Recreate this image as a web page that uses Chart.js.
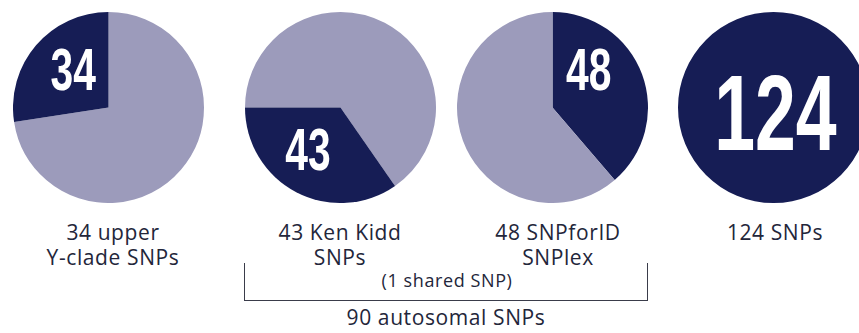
<!DOCTYPE html>
<html>
<head>
<meta charset="utf-8">
<script src="https://cdn.jsdelivr.net/npm/chart.js@4/dist/chart.umd.min.js"></script>
<style>
  html, body { margin: 0; padding: 0; background: #fff; overflow: hidden; }
  body { width: 859px; height: 333px; position: relative; font-family: "Open Sans", Roboto, sans-serif; color: #23263a; }
  .pie { position: absolute; width: 191px; height: 191px; }
  .label { position: absolute; width: 220px; text-align: center; font-size: 21px; line-height: 25px; letter-spacing: 0.6px; }
  .bracket { position: absolute; left: 244px; top: 263px; width: 404px; height: 38px;
             border: 1px solid #3a3c4a; border-top: none; box-sizing: border-box; }
  .note { position: absolute; width: 300px; text-align: center; letter-spacing: 0.6px; }
</style>
</head>
<body>
<div class="pie" style="left:13px;top:12px"><canvas id="pie0"></canvas></div>
<div class="pie" style="left:245px;top:12px"><canvas id="pie1"></canvas></div>
<div class="pie" style="left:457px;top:12px"><canvas id="pie2"></canvas></div>
<div class="pie" style="left:678px;top:12px"><canvas id="pie3"></canvas></div>

<div id="labels"></div>
<div class="bracket"></div>
<div class="note" style="left:297px;top:268px;font-size:18px">(1 shared SNP)</div>
<div class="note" style="left:296px;top:303px;font-size:21px">90 autosomal SNPs</div>

<script>
// SNP panels: part of the full 124 set highlighted in each pie
const panelNames = ["34 upper<br>Y-clade SNPs", "43 Ken Kidd<br>SNPs", "48 SNPforID<br>SNPlex", "124 SNPs"];
const panelCounts = [34, 43, 48, 124];
const totalSnps = 124;

// drawing setup per pie: slice order, start angle, number placement (fraction of radius)
const highlightFirst = [false, false, true, true];
const startAngles = [0, -90, 0, 0];
const numberOffsets = [[-0.37, -0.41], [-0.34, 0.43], [0.38, -0.41], [0.02, 0.04]];
const numberSizes = [60, 60, 60, 108];
const labelCenters = [113, 340, 558, 775];

const DARK = "#161d55";
const LIGHT = "#9c9bbb";

const numberPlugin = {
  id: "sliceNumber",
  afterDatasetsDraw(chart, args, opts) {
    const meta = chart.getDatasetMeta(0);
    const arc = meta.data[opts.index];
    const { x, y, outerRadius } = arc.getProps(["x", "y", "outerRadius"], true);
    const ctx = chart.ctx;
    const size = opts.size;
    const px = x + opts.offset[0] * outerRadius;
    const py = y + opts.offset[1] * outerRadius + size * 0.358;
    ctx.save();
    ctx.fillStyle = "#ffffff";
    ctx.font = "bold " + size + "px 'Liberation Sans', Arial, sans-serif";
    ctx.textAlign = "center";
    ctx.textBaseline = "alphabetic";
    ctx.translate(px, py);
    ctx.scale(0.68, 1);
    ctx.fillText(opts.text, 0, 0);
    ctx.restore();
  }
};

function initPie(i) {
  const part = panelCounts[i];
  const rest = totalSnps - part;
  const values = highlightFirst[i] ? [part, rest] : [rest, part];
  const colors = highlightFirst[i] ? [DARK, LIGHT] : [LIGHT, DARK];
  const darkIndex = highlightFirst[i] ? 0 : 1;

  new Chart(document.getElementById("pie" + i), {
    type: "pie",
    data: {
      labels: ["panel", "other"],
      datasets: [{ data: values, backgroundColor: colors, borderWidth: 0, hoverOffset: 0 }]
    },
    options: {
      responsive: true,
      maintainAspectRatio: false,
      animation: false,
      rotation: startAngles[i],
      layout: { padding: 0 },
      events: [],
      plugins: {
        legend: { display: false },
        tooltip: { enabled: false },
        sliceNumber: {
          index: darkIndex,
          text: String(part),
          size: numberSizes[i],
          offset: numberOffsets[i]
        }
      }
    },
    plugins: [numberPlugin]
  });
}

function initLabels() {
  const box = document.getElementById("labels");
  box.innerHTML = panelNames
    .map((name, i) => `<div class="label" style="left:${labelCenters[i] - 110}px;top:220px">${name}</div>`)
    .join("");
}

initLabels();
panelCounts.forEach((_, i) => initPie(i));
</script>
</body>
</html>
